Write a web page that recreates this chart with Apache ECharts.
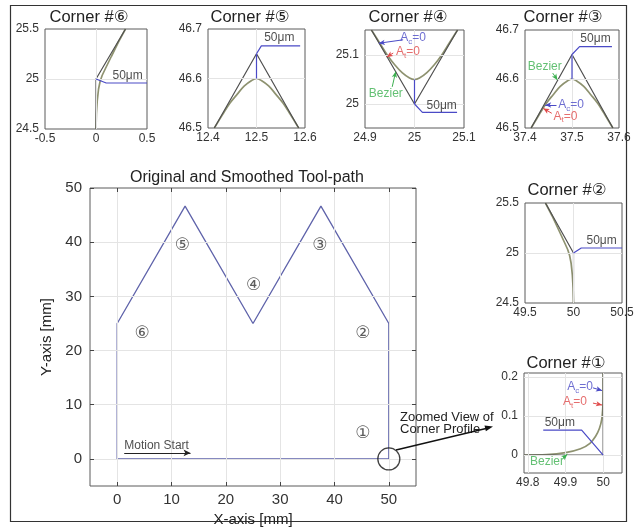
<!DOCTYPE html>
<html><head><meta charset="utf-8">
<script src="https://cdn.jsdelivr.net/npm/echarts@6/dist/echarts.min.js"></script>
<style>html,body{margin:0;padding:0;background:#fff}#c{width:634px;height:529px}</style>
</head><body><div id="c"></div>
<script>
// ================= DATA =================
// main tool path (original, mm)
const toolPath = [[0,0],[50,0],[50,25],[37.5,46.65],[25,25],[12.5,46.65],[0,25],[0,0]];
const cornerNames = ['①','②','③','④','⑤','⑥'];
const cornerNamePos = [[45.2,4.6],[45.2,23.1],[37.3,39.4],[25.1,32],[12,39.4],[4.6,23.1]];
const mainXTicks = [0,10,20,30,40,50];
const mainYTicks = [0,10,20,30,40,50];
const motionStartPos = [1.3,2.4];
const motionArrow = [[1.3,1.1],[13.5,1.1]];
const zoomCircle = [50,0];

// corner 6
const c6XTicks = [-0.5,0,0.5], c6YTicks = [24.5,25,25.5];
const c6Orig = [[0,24.5],[0,25],[0.289,25.5]];
const c6Smooth = [[0,24.5],[0.004,24.65],[0.012,24.78],[0.025,24.9],[0.04,24.975],[0.06,25.035],[0.095,25.11],[0.15,25.225],[0.22,25.37],[0.289,25.5]];
const c6Lead = [[0,25],[0.1,24.96],[0.5,24.96]];
const c6UmPos = [0.31,25.03];

// corner 5
const c5XTicks = [12.4,12.5,12.6], c5YTicks = [46.5,46.6,46.7];
const c5Orig = [[12.413,46.5],[12.5,46.65],[12.587,46.5]];
const c5Smooth = [[12.413,46.5],[12.43,46.527],[12.445,46.55],[12.46,46.568],[12.475,46.585],[12.49,46.596],[12.5,46.6],[12.51,46.596],[12.525,46.585],[12.54,46.568],[12.555,46.55],[12.57,46.527],[12.587,46.5]];
const c5Vert = [[12.5,46.65],[12.5,46.6]];
const c5Lead = [[12.5,46.65],[12.51,46.666],[12.59,46.666]];
const c5UmPos = [12.547,46.682];

// corner 4
const c4XTicks = [24.9,25,25.1], c4YTicks = [25,25.1];
const c4Orig = [[24.913,25.151],[25,25],[25.087,25.151]];
const c4Smooth = [[24.913,25.151],[24.93,25.124],[24.945,25.1],[24.96,25.08],[24.975,25.064],[24.99,25.053],[25,25.05],[25.01,25.053],[25.025,25.064],[25.04,25.08],[25.055,25.1],[25.07,25.124],[25.087,25.151]];
const c4Vert = [[25,25],[25,25.05]];
const c4Lead = [[25,25],[25.016,24.983],[25.086,24.983]];
const c4UmPos = [25.055,24.996];
const c4AcPos = [24.997,25.135], c4AtPos = [24.987,25.106], c4BzPos = [24.942,25.022];
const c4AcArrow = [[24.977,25.131],[24.928,25.124]];
const c4AtArrow = [[24.957,25.104],[24.944,25.096]];
const c4BzArrow = [[24.955,25.035],[24.962,25.066]];

// corner 3
const c3XTicks = [37.4,37.5,37.6], c3YTicks = [46.5,46.6,46.7];
const c3Orig = [[37.413,46.5],[37.5,46.65],[37.587,46.5]];
const c3Smooth = [[37.413,46.5],[37.43,46.527],[37.445,46.55],[37.46,46.568],[37.475,46.585],[37.49,46.596],[37.5,46.6],[37.51,46.596],[37.525,46.585],[37.54,46.568],[37.555,46.55],[37.57,46.527],[37.587,46.5]];
const c3Vert = [[37.5,46.65],[37.5,46.6]];
const c3Lead = [[37.5,46.65],[37.516,46.666],[37.585,46.666]];
const c3UmPos = [37.55,46.682];
const c3BzPos = [37.442,46.625], c3AcPos = [37.498,46.547], c3AtPos = [37.486,46.523];
const c3BzArrow = [[37.459,46.612],[37.469,46.598]];
const c3AcArrow = [[37.467,46.547],[37.443,46.547]];
const c3AtArrow = [[37.457,46.53],[37.439,46.54]];

// corner 2
const c2XTicks = [49.5,50,50.5], c2YTicks = [24.5,25,25.5];
const c2Orig = [[50,24.5],[50,25],[49.711,25.5]];
const c2Smooth = [[50,24.5],[49.996,24.65],[49.988,24.78],[49.975,24.9],[49.96,24.975],[49.94,25.035],[49.905,25.11],[49.85,25.225],[49.78,25.37],[49.711,25.5]];
const c2Lead = [[50,25],[50.08,25.05],[50.5,25.05]];
const c2UmPos = [50.29,25.12];

// corner 1
const c1XTicks = [49.8,49.9,50], c1YTicks = [0,0.1,0.2];
const c1Orig = [[49.79,0],[50,0],[50,0.21]];
const c1Smooth = [[49.79,0],[49.85,0.001],[49.9,0.006],[49.94,0.016],[49.965,0.03],[49.98,0.048],[49.99,0.068],[49.996,0.09],[49.999,0.12],[50,0.15],[50,0.21]];
const c1Lead = [[50,0],[49.943,0.064],[49.841,0.064]];
const c1UmPos = [49.885,0.084];
const c1AcPos = [49.939,0.174], c1AtPos = [49.925,0.136], c1BzPos = [49.851,-0.018];
const c1AcArrow = [[49.973,0.172],[49.997,0.165]];
const c1AtArrow = [[49.973,0.133],[49.997,0.128]];
const c1BzArrow = [[49.893,-0.008],[49.905,0.002]];

// ================= STYLE / LAYOUT =================
const FONT = "'Liberation Sans', Arial, 'DejaVu Sans', sans-serif";
const C_ORIG = '#505050', C_SMOOTH = '#8e9270', C_BLUE = '#4a4ac6', C_RED = '#e04a4a', C_GREEN = '#3cb050';
const C_GRID = '#e4e4e4', C_FRAME = '#5a5a5a';

const grids = [
  {left:90, top:188, width:326, height:298},
  {left:45, top:29, width:102, height:100},
  {left:208, top:29, width:97, height:99},
  {left:365, top:30, width:99, height:98},
  {left:525, top:30, width:94, height:98},
  {left:525, top:203, width:97, height:100},
  {left:524, top:373, width:98, height:100}
].map(g => Object.assign({show:true, borderColor:C_FRAME, borderWidth:1, outerBoundsMode:'none', containLabel:false}, g));

const xAxes = [], yAxes = [], series = [];
const noLine = {show:false, onZero:false};

// main axes
const tickStyle = {show:true, inside:true, length:4, lineStyle:{color:'#444', width:1}};
xAxes.push({gridIndex:0, type:'value', min:-5, max:55, position:'bottom', z:5,
  axisLine:noLine, splitLine:{show:false},
  axisTick:Object.assign({customValues:mainXTicks}, tickStyle),
  axisLabel:{customValues:mainXTicks, showMinLabel:true, showMaxLabel:true, fontSize:15, color:'#333', margin:6, fontFamily:FONT},
  name:'X-axis [mm]', nameLocation:'middle', nameGap:18, nameTextStyle:{fontSize:15, color:'#222', fontFamily:FONT}});
xAxes.push({gridIndex:0, type:'value', min:-5, max:55, position:'top', z:5,
  axisLine:noLine, splitLine:{show:false},
  axisTick:Object.assign({customValues:mainXTicks}, tickStyle), axisLabel:{show:false}});
yAxes.push({gridIndex:0, type:'value', min:-5, max:50, position:'left', z:5,
  axisLine:noLine, splitLine:{show:false},
  axisTick:Object.assign({customValues:mainYTicks}, tickStyle),
  axisLabel:{customValues:mainYTicks, showMinLabel:true, showMaxLabel:true, fontSize:15, color:'#333', margin:8, fontFamily:FONT},
  name:'Y-axis [mm]', nameLocation:'middle', nameGap:29, nameRotate:90, nameTextStyle:{fontSize:15, color:'#222', fontFamily:FONT}});
yAxes.push({gridIndex:0, type:'value', min:-5, max:50, position:'right', z:5,
  axisLine:noLine, splitLine:{show:false},
  axisTick:Object.assign({customValues:mainYTicks}, tickStyle), axisLabel:{show:false}});

function gridLineSeries(xi, yi, xt, yt, xr, yr) {
  const d = [];
  xt.filter(v => v > xr[0] + 1e-9 && v < xr[1] - 1e-9).forEach(v => d.push({xAxis:v}));
  yt.filter(v => v > yr[0] + 1e-9 && v < yr[1] - 1e-9).forEach(v => d.push({yAxis:v}));
  return {type:'scatter', xAxisIndex:xi, yAxisIndex:yi, data:[], silent:true, z:1, symbolSize:0,
    markLine:{silent:true, symbol:'none', label:{show:false}, animation:false,
      lineStyle:{color:C_GRID, width:1, type:'solid'}, emphasis:{disabled:true}, data:d}};
}
function lineSeries(xi, yi, data, color, width, z, smooth) {
  return {type:'line', xAxisIndex:xi, yAxisIndex:yi, data:data, showSymbol:false, symbol:'none', silent:true,
    smooth: smooth ? 0.35 : false, z:z, lineStyle:{color:color, width:width}, clip:true};
}
function rich(sub, color) {
  return {
    formatter: '{a|A}{s|' + sub + '}{a|=0}',
    rich: {a:{fontSize:12, color:color, fontFamily:FONT}, s:{fontSize:8, color:color, fontFamily:FONT, padding:[7,0,0,0]}}
  };
}
function textItem(pos, text, color, extra) {
  const lab = Object.assign({show:true, position:'inside', color:color, fontSize:12, fontFamily:FONT, formatter:text}, extra || {});
  return {value:pos, label:lab};
}
function arrowItem(pts, color) {
  return [{coord:pts[0], lineStyle:{color:color, width:1, type:'solid'}, itemStyle:{color:color}}, {coord:pts[1]}];
}

// main series
series.push(gridLineSeries(0, 0, mainXTicks, mainYTicks, [-5,55], [-5,50]));
series.push(lineSeries(0, 0, toolPath, '#5f63aa', 1.3, 3, false));
series.push({type:'scatter', xAxisIndex:0, yAxisIndex:0, symbolSize:0, silent:true, z:5,
  data: cornerNamePos.map((p, i) => ({value:p, label:{show:true, position:'inside', formatter:cornerNames[i], fontSize:17, color:'#333', fontFamily:"'DejaVu Sans', sans-serif"}}))
    .concat([{value:motionStartPos, label:{show:true, position:'right', distance:0, formatter:'Motion Start', fontSize:12, color:'#222', fontFamily:FONT}}]),
  markLine:{silent:true, symbol:['none','arrow'], symbolSize:[5,7], label:{show:false}, animation:false,
    lineStyle:{color:'#222', width:1, type:'solid'}, data:[[{coord:motionArrow[0]},{coord:motionArrow[1]}]]}});
series.push({type:'scatter', xAxisIndex:0, yAxisIndex:0, silent:true, z:6, symbol:'circle', symbolSize:22,
  itemStyle:{color:'rgba(0,0,0,0)', borderColor:'#111', borderWidth:1.3}, data:[zoomCircle]});

// corners
const corners = [
  {g:1, xr:[-0.5,0.5], yr:[24.5,25.5], xt:c6XTicks, yt:c6YTicks, orig:c6Orig, smooth:c6Smooth, sm:false, lead:c6Lead, um:c6UmPos},
  {g:2, xr:[12.4,12.6], yr:[46.5,46.7], xt:c5XTicks, yt:c5YTicks, orig:c5Orig, smooth:c5Smooth, sm:true, lead:c5Lead, vert:c5Vert, um:c5UmPos},
  {g:3, xr:[24.9,25.1], yr:[24.951,25.151], xt:c4XTicks, yt:c4YTicks, orig:c4Orig, smooth:c4Smooth, sm:true, lead:c4Lead, vert:c4Vert, um:c4UmPos,
    ann:[['Ac',c4AcPos,c4AcArrow],['At',c4AtPos,c4AtArrow],['Bz',c4BzPos,c4BzArrow]]},
  {g:4, xr:[37.4,37.6], yr:[46.5,46.7], xt:c3XTicks, yt:c3YTicks, orig:c3Orig, smooth:c3Smooth, sm:true, lead:c3Lead, vert:c3Vert, um:c3UmPos,
    ann:[['Ac',c3AcPos,c3AcArrow],['At',c3AtPos,c3AtArrow],['Bz',c3BzPos,c3BzArrow]]},
  {g:5, xr:[49.5,50.5], yr:[24.5,25.5], xt:c2XTicks, yt:c2YTicks, orig:c2Orig, smooth:c2Smooth, sm:false, lead:c2Lead, um:c2UmPos},
  {g:6, xr:[49.79,50.05], yr:[-0.046,0.21], xt:c1XTicks, yt:c1YTicks, orig:c1Orig, smooth:c1Smooth, sm:true, lead:c1Lead, um:c1UmPos,
    ann:[['Ac',c1AcPos,c1AcArrow],['At',c1AtPos,c1AtArrow],['Bz',c1BzPos,c1BzArrow]]}
];

corners.forEach(c => {
  const xi = xAxes.length, yi = yAxes.length;
  xAxes.push({gridIndex:c.g, type:'value', min:c.xr[0], max:c.xr[1], position:'bottom', axisLine:noLine, splitLine:{show:false},
    axisTick:{show:false},
    axisLabel:{customValues:c.xt, showMinLabel:true, showMaxLabel:true, fontSize:12, color:'#333', margin:4, fontFamily:FONT, formatter:v => String(+v.toFixed(3))}});
  yAxes.push({gridIndex:c.g, type:'value', min:c.yr[0], max:c.yr[1], position:'left', axisLine:noLine, splitLine:{show:false},
    axisTick:{show:false},
    axisLabel:{customValues:c.yt, showMinLabel:true, showMaxLabel:true, fontSize:12, color:'#333', margin:6, fontFamily:FONT, formatter:v => String(+v.toFixed(3))}});
  series.push(gridLineSeries(xi, yi, c.xt, c.yt, c.xr, c.yr));
  series.push(lineSeries(xi, yi, c.smooth, C_SMOOTH, 1.7, 3, c.sm));
  series.push(lineSeries(xi, yi, c.orig, C_ORIG, 1.2, 4, false));
  if (c.vert) series.push(lineSeries(xi, yi, c.vert, C_BLUE, 1.2, 5, false));
  series.push(lineSeries(xi, yi, c.lead, C_BLUE, 1.2, 5, false));
  const texts = [textItem(c.um, '50μm', '#222')];
  const arrows = [];
  (c.ann || []).forEach(a => {
    if (a[0] === 'Ac') { texts.push({value:a[1], label:Object.assign({show:true, position:'inside'}, rich('c', C_BLUE))}); arrows.push(arrowItem(a[2], C_BLUE)); }
    if (a[0] === 'At') { texts.push({value:a[1], label:Object.assign({show:true, position:'inside'}, rich('t', C_RED))}); arrows.push(arrowItem(a[2], C_RED)); }
    if (a[0] === 'Bz') { texts.push(textItem(a[1], 'Bezier', C_GREEN)); arrows.push(arrowItem(a[2], C_GREEN)); }
  });
  series.push({type:'scatter', xAxisIndex:xi, yAxisIndex:yi, symbolSize:0, silent:true, z:7, data:texts,
    markLine:{silent:true, symbol:['none','arrow'], symbolSize:[4,6], label:{show:false}, animation:false,
      lineStyle:{width:1, type:'solid'}, data:arrows}});
});

// ================= TITLES / FRAME / CALLOUT =================
function titleText(x, y, text, size) {
  return {type:'text', x:x, y:y, silent:true, z:10,
    style:{text:text, fill:'#222', font: size + 'px ' + FONT, textAlign:'center', textVerticalAlign:'middle'}};
}
const graphic = [
  {type:'rect', silent:true, z:0, shape:{x:10.5, y:5.5, width:616, height:516}, style:{fill:'none', stroke:'#333', lineWidth:1.2}},
  titleText(247, 178, 'Original and Smoothed Tool-path', 16),
  titleText(89, 17, 'Corner #⑥', 16.5),
  titleText(250, 17, 'Corner #⑤', 16.5),
  titleText(408, 17, 'Corner #④', 16.5),
  titleText(563, 17, 'Corner #③', 16.5),
  titleText(567, 190, 'Corner #②', 16.5),
  titleText(566, 363, 'Corner #①', 16.5),
  {type:'text', x:400, y:417, silent:true, style:{text:'Zoomed View of', fill:'#222', font:'13px ' + FONT, textAlign:'left', textVerticalAlign:'middle'}},
  {type:'text', x:400, y:429, silent:true, style:{text:'Corner Profile', fill:'#222', font:'13px ' + FONT, textAlign:'left', textVerticalAlign:'middle'}},
  {type:'line', silent:true, shape:{x1:396, y1:450, x2:486, y2:428.5}, style:{stroke:'#111', lineWidth:1.3}},
  {type:'polygon', silent:true, shape:{points:[[493,426.5],[485.9,431.3],[484.5,425.5]]}, style:{fill:'#111'}}
];

const chart = echarts.init(document.getElementById('c'), null, {renderer:'canvas'});
chart.setOption({
  animation:false,
  backgroundColor:'#fff',
  textStyle:{fontFamily:FONT},
  grid:grids, xAxis:xAxes, yAxis:yAxes, series:series, graphic:graphic
});
</script></body></html>
